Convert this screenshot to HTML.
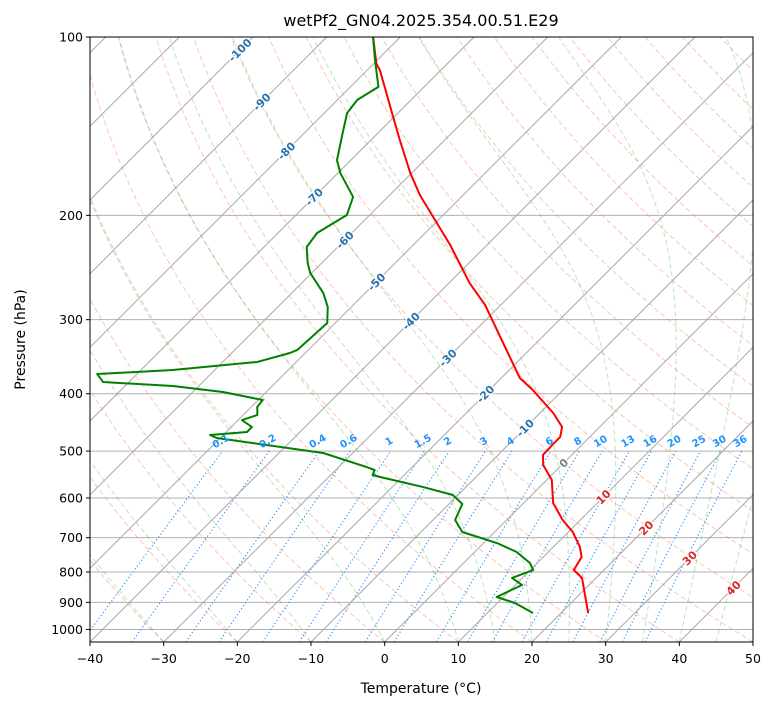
<!DOCTYPE html>
<html><head><meta charset="utf-8"><title>Skew-T</title>
<style>
html,body{margin:0;padding:0;background:#fff;}
svg{display:block;font-family:"DejaVu Sans","Liberation Sans",sans-serif;}
</style></head>
<body>
<svg id="chart" width="775" height="708" viewBox="0 0 775 708" xmlns="http://www.w3.org/2000/svg">
<defs><clipPath id="clip"><rect x="90" y="37" width="663" height="605"/></clipPath></defs>
<rect x="0" y="0" width="775" height="708" fill="#fff"/>
<text x="421" y="26" font-size="16" text-anchor="middle" fill="#000">wetPf2_GN04.2025.354.00.51.E29</text>
<g id="bg" clip-path="url(#clip)"></g>
<g id="series" clip-path="url(#clip)"></g>
<g id="labels" clip-path="url(#clip)"></g>
<rect x="90" y="37" width="663" height="605" fill="none" stroke="#000" stroke-width="1"/>
<g id="axes"></g>
<text transform="translate(25,339.5) rotate(-90)" font-size="14" text-anchor="middle">Pressure (hPa)</text>
<text x="421" y="693" font-size="14" text-anchor="middle">Temperature (°C)</text>
</svg>
<script>
// ---- data ----
const tempPressure = [100,111,113.7,122.9,134.4,149.2,169.6,184.8,201.3,224.4,260.2,283.4,324.7,376.3,394.3,431.2,455.3,473.3,488.3,507.6,527.8,559.5,611.7,653.5,684.7,725.8,754.6,793.7,818.7,868,938.2];
const tempValues = [-83.7,-79.6,-78.3,-74.8,-70.8,-66.1,-60.2,-55.9,-51.1,-45.0,-37.2,-32.1,-25.1,-17.5,-14.1,-8.2,-5.1,-4.0,-4.0,-3.9,-2.5,0.7,4.0,7.6,10.6,13.6,15.2,15.9,18.1,20.5,23.7];
const dewPressure = [100,109.4,121.4,127.7,134.4,145.2,161.3,169.6,186.2,199.7,214.2,226.2,240.7,250.2,270.5,285.6,303.9,337.5,341.5,353.6,364.8,370.6,382.3,388.3,397.4,409.9,421.2,434.5,443.1,455.3,464.2,469.7,475.2,503.7,531.9,538.2,548.7,553,575,593,614,653.5,684.7,714.7,740.1,772.5,793.7,818.7,841.3,881.5,902.3,938.2];
const dewValues = [-83.7,-80.3,-76.2,-77.3,-76.9,-74.8,-71.9,-69.7,-64.7,-63.1,-64.7,-64.2,-61.9,-60.2,-55.7,-53.2,-51.1,-51.5,-52.1,-55.3,-65.7,-75.4,-73.5,-63.5,-55.9,-49.4,-49.2,-48.1,-49.5,-47.2,-47.2,-51.8,-50.5,-34.0,-26.2,-24.7,-24.3,-23.0,-15.8,-10.7,-8.2,-7.0,-4.4,1.8,5.7,9.0,10.4,8.6,10.9,9.1,12.4,16.2];
const pressureTicks = [100,200,300,400,500,600,700,800,900,1000];
const tempTicks = [-40,-30,-20,-10,0,10,20,30,40,50];
const isothermValues = [-130,-120,-110,-100,-90,-80,-70,-60,-50,-40,-30,-20,-10,0,10,20,30,40,50];
const isothermLabels = [-100,-90,-80,-70,-60,-50,-40,-30,-20,-10,0,10,20,30,40];
const isothermLabelPressure = [105.2,128.7,155.7,186.2,220,259,301.6,348,400.5,457,523.7,597.6,674,757.6,851];
const dryAdiabatT0 = [-40,-30,-20,-10,0,10,20,30,40,50,60,70,80,90,100,110,120,130,140,150,160,170,180,190,200];
const moistAdiabatT0 = [-50,-40,-30,-20,-10,0,10,15,20,25,30,35,40,45,50];
const mixingRatios = [0.1,0.2,0.4,0.6,1,1.5,2,3,4,6,8,10,13,16,20,25,30,36];

// ---- axes functions ----
const X0=90,X1=753,Y0=37,Y1=642,PTOP=100,PBOT=1050;
const k=(X1-X0)/90;
function yP(p){return Y0+Math.log(p/PTOP)/Math.log(PBOT/PTOP)*(Y1-Y0);}
function xT(T,p){return X0+(T+40)*k+(Y1-yP(p));}
const NS='http://www.w3.org/2000/svg';
function mk(tag,attrs,parent){const e=document.createElementNS(NS,tag);for(const a in attrs)e.setAttribute(a,attrs[a]);parent.appendChild(e);return e;}
function pathFrom(ps,ts){let d='';for(let i=0;i<ps.length;i++){d+=(i?'L':'M')+xT(ts[i],ps[i]).toFixed(2)+','+yP(ps[i]).toFixed(2);}return d;}
const bg=document.getElementById('bg'),series=document.getElementById('series'),labels=document.getElementById('labels'),axes=document.getElementById('axes');

// isobars
for(const p of pressureTicks){
  const l=mk('line',{x1:X0,x2:X1,y1:yP(p),y2:yP(p),stroke:'#b0b0b0','stroke-width':1},bg);
  
  
}
// dry adiabats
const plev=[];for(let p=PBOT;p>=PTOP-0.01;p-=10)plev.push(p);
for(const t0 of dryAdiabatT0){
  const ts=plev.map(p=>(t0+273.15)*Math.pow(p/PBOT,0.2857)-273.15);
  const e=mk('path',{d:pathFrom(plev,ts),fill:'none',stroke:'rgba(250,110,70,0.4)','stroke-width':1,'stroke-dasharray':'5,3'},bg);
  
  
}
// moist adiabats
function rs(Tc,p){const es=6.112*Math.exp(17.67*Tc/(Tc+243.5));return 0.622*es/(p-es);}
function dTdp(T,p){const Tc=T-273.15,r=rs(Tc,p),Rd=287.04,Cp=1005.7,Lv=2.501e6;return (Rd*T+Lv*r)/(Cp+Lv*Lv*r*0.622/(Rd*T*T))/p;}
for(const t0 of moistAdiabatT0){
  let T=t0+273.15;const ps=[],ts=[];
  for(let p=PBOT;p>=PTOP;p-=2){ps.push(p);ts.push(T-273.15);
    const h=-2;const k1=dTdp(T,p),k2=dTdp(T+h/2*k1,p+h/2),k3=dTdp(T+h/2*k2,p+h/2),k4=dTdp(T+h*k3,p+h);T+=h/6*(k1+2*k2+2*k3+k4);}
  const e=mk('path',{d:pathFrom(ps,ts),fill:'none',stroke:'rgba(0,140,0,0.25)','stroke-width':1,'stroke-dasharray':'5,3'},bg);
  
  
}
// mixing ratio lines
function tdFrom(w,p){const r=w/1000;const e=p*r/(0.622+r);const l=Math.log(e/6.112);return 243.5*l/(17.67-l);}
for(const w of mixingRatios){
  const ps=[];for(let p=PBOT;p>=500;p-=10)ps.push(p);
  const ts=ps.map(p=>tdFrom(w,p));
  const e=mk('path',{d:pathFrom(ps,ts),fill:'none',stroke:'#1e90ff','stroke-width':1.1,'stroke-dasharray':'1.2,2.4'},bg);
  
  
  const lx=xT(tdFrom(w,500),500),ly=yP(500)-7;
  const t=mk('text',{x:lx,y:ly,'font-size':10,'font-weight':'bold',fill:'#1e90ff','text-anchor':'middle',transform:'rotate(-30 '+lx+' '+ly+')'},labels);
  t.textContent=String(w);
  
  
}
// isotherms
for(const T of isothermValues){
  const e=mk('line',{x1:xT(T,PBOT),y1:Y1,x2:xT(T,PTOP),y2:Y0,stroke:'#a8a8a8','stroke-width':1},bg);
  
  
}
// isotherm labels
isothermLabels.forEach((T,i)=>{
  const p=isothermLabelPressure[i];const lx=xT(T,p),ly=yP(p);
  const col=T<0?'#2a72b0':(T===0?'#808080':'#d62728');
  const t=mk('text',{x:lx,y:ly+4,'font-size':11,'font-weight':'bold',fill:col,'text-anchor':'middle',transform:'rotate(-45 '+lx+' '+ly+')'},labels);
  t.setAttribute('stroke','#fff');t.setAttribute('stroke-width','2.5');t.setAttribute('paint-order','stroke');
  t.textContent=String(T);
  
  
});
// profiles
const tl=mk('path',{d:pathFrom(tempPressure,tempValues),fill:'none',stroke:'#ff0000','stroke-width':2,'stroke-linejoin':'round'},series);


const dl=mk('path',{d:pathFrom(dewPressure,dewValues),fill:'none',stroke:'#008000','stroke-width':2,'stroke-linejoin':'round'},series);


// axis ticks
for(const p of pressureTicks){
  const y=yP(p);
  const tk=mk('line',{x1:X0-4,x2:X0,y1:y,y2:y,stroke:'#000'},axes);
  
  
  const t=mk('text',{x:X0-7,y:y+4.5,'font-size':12.5,'text-anchor':'end'},axes);
  t.textContent=String(p);
  
  
}
for(const T of tempTicks){
  const x=X0+(T+40)*k;
  const tk=mk('line',{x1:x,x2:x,y1:Y1,y2:Y1+4,stroke:'#000'},axes);
  
  
  const t=mk('text',{x:x,y:Y1+21,'font-size':12.5,'text-anchor':'middle'},axes);
  t.textContent=(T<0?'\u2212'+Math.abs(T):String(T));
  
  
}
</script>
</body></html>
